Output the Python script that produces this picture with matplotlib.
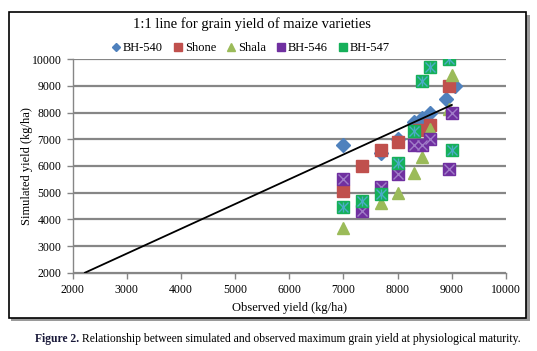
import matplotlib
matplotlib.use("Agg")
import matplotlib.pyplot as plt
from matplotlib.patches import Rectangle
from matplotlib.lines import Line2D

plt.rcParams['font.family'] = ['Liberation Serif', 'DejaVu Serif']

# ---- data (observed, simulated) ----
bh540_obs = [7000, 7700, 8000, 8300, 8450, 8600, 8900, 9050]
bh540_sim = [6800, 6500, 7000, 7650, 7800, 8000, 8500, 9000]

shone_obs = [7000, 7350, 7700, 8000, 8400, 8600, 8950]
shone_sim = [5050, 6000, 6600, 6900, 7350, 7550, 9000]

shala_obs = [7000, 7700, 8000, 8300, 8450, 8600, 8950, 9000]
shala_sim = [3680, 4600, 5000, 5750, 6330, 7400, 8150, 9400]

bh546_obs = [7000, 7350, 7700, 8000, 8300, 8450, 8600, 8950, 9000]
bh546_sim = [5500, 4300, 5200, 5700, 6800, 6800, 7000, 5900, 8000]

bh547_obs = [7000, 7350, 7700, 8000, 8300, 8450, 8600, 8950, 9000]
bh547_sim = [4450, 4700, 4950, 6100, 7300, 9200, 9700, 10000, 6600]

line_x = [2230, 9000]
line_y = [2000, 8290]

x_ticks = [2000, 3000, 4000, 5000, 6000, 7000, 8000, 9000, 10000]
y_ticks = [2000, 3000, 4000, 5000, 6000, 7000, 8000, 9000, 10000]

c540 = '#4F81BD'
cshone = '#C0504D'
cshala = '#9BBB59'
c546 = '#7030A0'
c546x = '#A07CC8'
c547 = '#16B05A'
c547s = '#4BACC6'

fig = plt.figure(figsize=(5.37, 3.51), dpi=100)

W, H = 537, 351
def fx(px): return px / W
def fy(py): return 1 - py / H

# chart border with shadow
fig.patches.append(Rectangle((fx(11), fy(321)), (519 - 0) / W, (321 - 15) / H,
                             transform=fig.transFigure, facecolor='#9a9a9a',
                             edgecolor='none', zorder=0))
fig.patches.append(Rectangle((fx(9), fy(318)), (526 - 9) / W, (318 - 12) / H,
                             transform=fig.transFigure, facecolor='white',
                             edgecolor='black', linewidth=1.2, zorder=1))

ax = fig.add_axes([fx(72.5), fy(272.7), (506 - 72.5) / W, (272.7 - 59.3) / H])
ax.set_zorder(2)
ax.patch.set_alpha(0)

ax.set_xlim(2000, 10000)
ax.set_ylim(2000, 10000)
ax.set_xticks(x_ticks)
ax.set_yticks(y_ticks)
ax.set_xticklabels([str(v) for v in x_ticks], fontsize=8.5)
ax.set_yticklabels([str(v) for v in y_ticks], fontsize=8.5)
for s in ['top', 'right']:
    ax.spines[s].set_visible(False)
for s in ['left', 'bottom']:
    ax.spines[s].set_color('#868686')
    ax.spines[s].set_linewidth(1.0)
ax.tick_params(axis='both', colors='#868686', labelcolor='black', length=4, width=1, direction='out')
ax.tick_params(axis='x', pad=4)
ax.tick_params(axis='y', pad=4)
ax.yaxis.grid(True, color='#868686', linewidth=1.6)
ax.set_axisbelow(True)

ms = 8.5
# Excel draw order: first series at the bottom
ax.plot(bh540_obs, bh540_sim, ls='none', marker='D', ms=ms * 0.8, mfc=c540, mec=c540, zorder=3.0)
ax.plot(shone_obs, shone_sim, ls='none', marker='s', ms=ms, mfc=cshone, mec=cshone, zorder=3.1)
ax.plot(shala_obs, shala_sim, ls='none', marker='^', ms=ms, mfc=cshala, mec=cshala, zorder=3.2)
ax.plot(bh546_obs, bh546_sim, ls='none', marker='s', ms=ms, mfc=c546, mec=c546, zorder=3.3)
ax.plot(bh546_obs, bh546_sim, ls='none', marker='x', ms=ms * 0.9, mec=c546x, mew=1.0, zorder=3.35)
ax.plot(bh547_obs, bh547_sim, ls='none', marker='s', ms=ms, mfc=c547, mec=c547, zorder=3.4)
ax.plot(bh547_obs, bh547_sim, ls='none', marker='x', ms=ms * 0.8, mec=c547s, mew=1.0, zorder=3.45)
ax.plot(bh547_obs, bh547_sim, ls='none', marker='|', ms=ms * 0.85, mec=c547s, mew=1.0, zorder=3.45)
ax.plot(line_x, line_y, color='black', lw=1.3, zorder=4)

fig.text(fx(290), fy(308), 'Observed yield (kg/ha)', fontsize=9, ha='center', va='center')
fig.text(fx(27), fy(166), 'Simulated yield (kg/ha)', fontsize=9, ha='center', va='center',
         rotation=90)

fig.text(fx(252), fy(24), '1:1 line for grain yield of maize varieties',
         fontsize=10.5, ha='center', va='center')

handles = [
    Line2D([], [], ls='none', marker='D', ms=4.5, mfc=c540, mec=c540),
    Line2D([], [], ls='none', marker='s', ms=5.5, mfc=cshone, mec=cshone),
    Line2D([], [], ls='none', marker='^', ms=5.5, mfc=cshala, mec=cshala),
    Line2D([], [], ls='none', marker='s', ms=5.5, mfc=c546, mec=c546),
    Line2D([], [], ls='none', marker='s', ms=5.5, mfc=c547, mec=c547),
]
labels = ['BH-540', 'Shone', 'Shala', 'BH-546', 'BH-547']
fig.legend(handles, labels, loc='center', bbox_to_anchor=(fx(251), fy(48)), ncol=5,
           frameon=False, fontsize=9, handlelength=0.6, handletextpad=0.25,
           columnspacing=0.9, borderpad=0)

cap_fs = 8.4
t1 = fig.text(fx(35), fy(339), 'Figure 2.', fontsize=cap_fs, fontweight='bold',
              color='#1a1a3a', ha='left', va='center')
r = fig.canvas.get_renderer()
bb = t1.get_window_extent(renderer=r)
fig.text(bb.x1 / W + 3 / W, fy(339),
         'Relationship between simulated and observed maximum grain yield at physiological maturity.',
         fontsize=cap_fs, ha='left', va='center')

fig.savefig('out.png', dpi=100)
